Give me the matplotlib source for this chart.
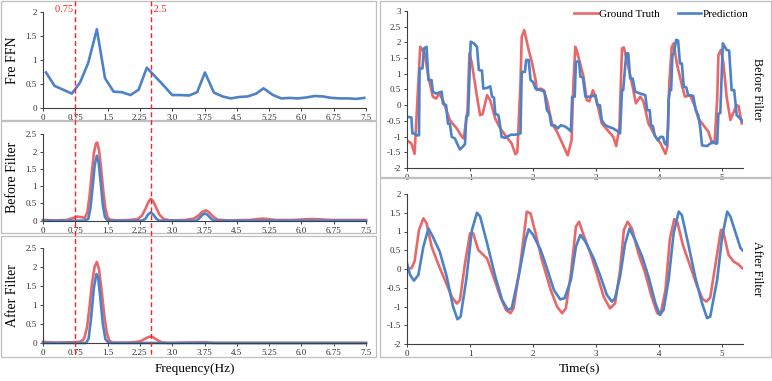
import matplotlib
matplotlib.use("Agg")
import matplotlib.pyplot as plt
from matplotlib.lines import Line2D
from matplotlib.patches import Rectangle
from matplotlib import transforms

plt.rcParams['font.family'] = ['Liberation Serif', 'DejaVu Serif']

# ---------------- data ----------------
fre_x = [0.07, 0.27, 0.47, 0.67, 0.86, 1.05, 1.25, 1.44, 1.64, 1.83, 2.03, 2.22, 2.41,
         2.61, 2.80, 3.00, 3.19, 3.39, 3.58, 3.76, 3.97, 4.17, 4.36, 4.56, 4.75, 4.95,
         5.12, 5.34, 5.53, 5.73, 5.92, 6.12, 6.31, 6.51, 6.70, 6.89, 7.09, 7.28, 7.46]
fre_y = [0.74, 0.46, 0.38, 0.30, 0.53, 0.94, 1.64, 0.62, 0.34, 0.33, 0.27, 0.38, 0.84,
         0.65, 0.47, 0.27, 0.27, 0.26, 0.33, 0.74, 0.32, 0.24, 0.20, 0.23, 0.24, 0.30,
         0.41, 0.27, 0.20, 0.21, 0.20, 0.22, 0.25, 0.24, 0.21, 0.20, 0.20, 0.19, 0.21]

bf_gt_x = [0.0, 0.3, 0.55, 0.7, 0.8, 0.9, 0.97, 1.03, 1.08, 1.13, 1.18, 1.23, 1.26, 1.30,
           1.35, 1.40, 1.45, 1.50, 1.56, 1.7, 2.0, 2.2, 2.3, 2.38, 2.45, 2.5, 2.55, 2.62,
           2.7, 2.8, 2.95, 3.3, 3.5, 3.6, 3.7, 3.78, 3.85, 3.95, 4.05, 4.3, 4.8, 5.0, 5.1,
           5.2, 5.4, 5.8, 6.1, 6.25, 6.4, 6.7, 7.0, 7.5]
bf_gt_y = [0.02, 0.01, 0.02, 0.08, 0.12, 0.10, 0.08, 0.25, 0.70, 1.35, 1.95, 2.24, 2.26, 2.05,
           1.50, 0.85, 0.35, 0.10, 0.03, 0.01, 0.02, 0.05, 0.15, 0.35, 0.55, 0.63, 0.58, 0.40,
           0.18, 0.05, 0.01, 0.02, 0.06, 0.14, 0.26, 0.30, 0.25, 0.12, 0.03, 0.01, 0.02, 0.05, 0.06,
           0.05, 0.02, 0.02, 0.04, 0.05, 0.04, 0.02, 0.02, 0.02]
bf_pr_x = [0.0, 0.95, 1.05, 1.10, 1.15, 1.20, 1.25, 1.29, 1.34, 1.39, 1.44, 1.50, 1.6, 2.3,
           2.38, 2.44, 2.5, 2.56, 2.63, 2.7, 3.55, 3.62, 3.7, 3.76, 3.82, 3.9, 3.98, 7.5]
bf_pr_y = [0.0, 0.0, 0.05, 0.35, 0.95, 1.60, 1.88, 1.70, 1.10, 0.45, 0.10, 0.01, 0.0, 0.0,
           0.06, 0.18, 0.24, 0.18, 0.06, 0.0, 0.0, 0.06, 0.17, 0.21, 0.17, 0.06, 0.0, 0.0]

af_gt_x = [0.0, 0.3, 0.7, 0.85, 0.95, 1.02, 1.08, 1.14, 1.20, 1.25, 1.30, 1.36, 1.42, 1.48,
           1.54, 1.62, 2.0, 2.25, 2.35, 2.45, 2.5, 2.56, 2.65, 2.75, 2.9, 3.75, 4.0, 7.5]
af_gt_y = [0.03, 0.01, 0.02, 0.03, 0.10, 0.40, 0.95, 1.60, 2.02, 2.14, 1.95, 1.40, 0.75, 0.28,
           0.06, 0.01, 0.01, 0.04, 0.10, 0.16, 0.17, 0.15, 0.08, 0.02, 0.0, 0.02, 0.0, 0.0]
af_pr_x = [0.0, 1.0, 1.06, 1.12, 1.18, 1.24, 1.28, 1.33, 1.39, 1.45, 1.52, 1.6, 7.5]
af_pr_y = [0.0, 0.0, 0.12, 0.70, 1.45, 1.82, 1.75, 1.20, 0.50, 0.10, 0.01, 0.0, 0.0]

tb_gt_x = [0.0, 0.07, 0.12, 0.21, 0.28, 0.34, 0.41, 0.46, 0.51, 0.57, 0.68, 0.79, 0.87, 0.90,
           0.96, 0.99, 1.03, 1.11, 1.16, 1.20, 1.27, 1.32, 1.40, 1.48, 1.56, 1.66, 1.72, 1.75,
           1.80, 1.82, 1.86, 1.93, 1.98, 2.04, 2.06, 2.12, 2.17, 2.22, 2.30, 2.38, 2.49, 2.55,
           2.61, 2.64, 2.67, 2.69, 2.80, 2.85, 2.89, 2.95, 3.01, 3.09, 3.20, 3.27, 3.32, 3.37,
           3.41, 3.44, 3.51, 3.59, 3.63, 3.70, 3.75, 3.83, 3.94, 4.02, 4.10, 4.13, 4.16, 4.20,
           4.23, 4.28, 4.36, 4.41, 4.49, 4.57, 4.62, 4.70, 4.78, 4.84, 4.88, 4.92, 4.94, 4.98,
           5.02, 5.07, 5.13, 5.16, 5.23, 5.26, 5.31]
tb_gt_y = [-1.12, -1.22, -1.55, 1.86, 1.65, 0.90, 0.27, 0.21, 0.37, 0.16, -0.48, -0.74, -1.00, -1.06,
           -0.16, 1.65, 1.33, 0.27, -0.32, -0.28, 0.32, 0.16, -0.43, -0.74, -0.96, -1.22, -1.56, -1.49,
           0.69, 2.18, 2.39, 1.76, 1.38, 0.80, 0.48, 0.53, 0.48, 0.16, -0.59, -0.85, -1.33, -1.60,
           -1.12, 0.69, 1.86, 1.76, 0.91, 0.17, 0.12, 0.48, 0.12, -0.58, -0.84, -1.00, -1.30, -0.68,
           1.81, 1.84, 1.23, 0.48, 0.06, 0.27, 0.12, -0.58, -1.00, -1.21, -1.55, -1.32, 0.70, 1.86,
           1.97, 1.33, 0.64, 0.27, 0.32, -0.05, -0.42, -0.63, -0.84, -1.21, -1.16, 0.17, 1.60, 1.76,
           1.33, 0.27, -0.47, -0.32, 0.00, -0.03, -0.58]

tb_pr_x = [0.0, 0.07, 0.085, 0.12, 0.15, 0.19, 0.20, 0.245, 0.27, 0.31, 0.34, 0.39, 0.41, 0.46,
           0.55, 0.57, 0.62, 0.65, 0.68, 0.71, 0.76, 0.80, 0.84, 0.88, 0.92, 0.94, 0.97, 1.01,
           1.06, 1.11, 1.14, 1.19, 1.21, 1.27, 1.32, 1.35, 1.38, 1.40, 1.45, 1.48, 1.50, 1.56,
           1.60, 1.65, 1.72, 1.80, 1.82, 1.87, 1.89, 1.93, 1.96, 2.00, 2.04, 2.12, 2.18, 2.22,
           2.26, 2.29, 2.34, 2.39, 2.44, 2.50, 2.55, 2.60, 2.62, 2.66, 2.68, 2.73, 2.75, 2.79,
           2.83, 2.91, 2.99, 3.02, 3.06, 3.09, 3.14, 3.20, 3.27, 3.35, 3.38, 3.41, 3.43, 3.46,
           3.48, 3.51, 3.54, 3.58, 3.62, 3.70, 3.78, 3.81, 3.85, 3.87, 3.90, 3.93, 3.98, 4.02,
           4.06, 4.09, 4.12, 4.14, 4.15, 4.17, 4.19, 4.21, 4.23, 4.27, 4.30, 4.33, 4.36, 4.39,
           4.43, 4.46, 4.54, 4.58, 4.62, 4.65, 4.68, 4.76, 4.81, 4.85, 4.89, 4.92, 4.94, 4.97,
           5.01, 5.07, 5.11, 5.15, 5.19, 5.23, 5.26, 5.32]
tb_pr_y = [-0.37, -0.39, -0.90, -0.90, -0.96, -0.96, 1.17, 1.17, 1.81, 1.86, 0.80, 0.80, 0.43, 0.37,
           0.43, 0.05, 0.00, -0.59, -0.59, -1.01, -1.06, -1.24, -1.41, -1.33, -1.24, -0.37, -0.32, 2.02,
           1.97, 1.86, 1.12, 1.10, 0.53, 0.55, 0.60, 0.27, 0.24, -0.27, -0.32, -0.69, -1.01, -1.04,
           -0.99, -0.94, -0.94, -0.90, 1.06, 1.06, 1.44, 1.44, 0.80, 0.74, 0.53, 0.48, 0.43, -0.16,
           -0.27, -0.64, -0.64, -0.74, -0.64, -0.67, -0.74, -0.83, 0.27, 0.27, 1.39, 1.39, 0.91, 0.88,
           0.27, 0.27, 0.32, 0.00, 0.00, -0.48, -0.63, -0.69, -0.74, -0.84, -0.90, 0.48, 0.48, 1.23,
           1.65, 1.65, 0.85, 0.85, 0.43, 0.37, 0.32, -0.16, -0.16, -0.63, -0.67, -0.96, -1.12, -1.01,
           -1.01, -1.22, -1.27, -0.74, 0.17, 0.48, 0.48, 1.60, 1.63, 2.08, 2.06, 1.33, 1.33, 0.59,
           0.57, 0.32, 0.30, -0.16, -0.32, -0.69, -1.28, -1.30, -1.22, -1.16, -1.22, -1.22, -0.27, -0.25,
           1.97, 1.76, 1.74, 0.48, 0.48, -0.32, -0.37, -0.50]

ta_gt_x = [0.0, 0.07, 0.12, 0.19, 0.26, 0.31, 0.39, 0.49, 0.60, 0.71, 0.79, 0.84, 0.92, 1.00,
           1.05, 1.13, 1.27, 1.37, 1.48, 1.57, 1.64, 1.69, 1.80, 1.90, 1.96, 2.04, 2.14, 2.28,
           2.38, 2.46, 2.52, 2.60, 2.68, 2.73, 2.80, 2.91, 3.01, 3.12, 3.22, 3.30, 3.38, 3.44,
           3.50, 3.57, 3.67, 3.78, 3.88, 3.97, 4.02, 4.10, 4.17, 4.24, 4.29, 4.38, 4.49, 4.60,
           4.69, 4.75, 4.81, 4.89, 4.98, 5.01, 5.10, 5.18, 5.26, 5.32]
ta_gt_y = [0.02, 0.02, 0.20, 1.04, 1.35, 1.22, 0.60, 0.15, -0.29, -0.74, -0.92, -0.83, 0.15, 0.95,
           0.95, 0.51, 0.28, -0.20, -0.74, -1.09, -1.18, -1.05, 0.15, 1.53, 1.48, 0.95, 0.24, -0.56,
           -1.00, -1.18, -1.05, -0.12, 1.13, 1.26, 0.91, 0.42, -0.12, -0.74, -1.05, -0.92, -0.03, 1.04,
           1.26, 1.07, 0.42, -0.12, -0.74, -1.18, -1.22, -0.56, 0.80, 1.33, 1.24, 0.62, 0.09, -0.45,
           -0.80, -0.87, -0.76, 0.09, 1.04, 1.04, 0.38, 0.20, 0.12, 0.02]

ta_pr_x = [0.0, 0.05, 0.11, 0.18, 0.26, 0.34, 0.41, 0.52, 0.63, 0.73, 0.80, 0.85, 0.94, 1.03,
           1.11, 1.16, 1.27, 1.40, 1.51, 1.60, 1.66, 1.77, 1.88, 1.93, 2.00, 2.12, 2.22, 2.33,
           2.43, 2.50, 2.60, 2.68, 2.75, 2.83, 2.96, 3.07, 3.17, 3.25, 3.30, 3.38, 3.46, 3.53,
           3.62, 3.73, 3.83, 3.94, 4.01, 4.07, 4.15, 4.23, 4.31, 4.36, 4.47, 4.57, 4.68, 4.76,
           4.81, 4.92, 5.00, 5.08, 5.13, 5.24, 5.29, 5.34]
ta_pr_y = [0.15, -0.16, -0.31, -0.16, 0.60, 1.08, 0.86, 0.46, -0.20, -1.00, -1.34, -1.27, -0.29, 1.04,
           1.50, 1.40, 0.69, -0.20, -0.83, -1.09, -1.05, -0.20, 0.78, 1.06, 0.91, 0.51, 0.02, -0.56,
           -0.81, -0.78, -0.29, 0.60, 0.91, 0.73, 0.29, -0.20, -0.69, -0.87, -0.78, -0.20, 0.68, 1.08,
           0.77, 0.33, -0.20, -0.91, -1.22, -1.09, -0.29, 0.96, 1.53, 1.44, 0.60, -0.20, -0.91, -1.31,
           -1.27, -0.29, 0.87, 1.53, 1.40, 0.82, 0.56, 0.47]

freq_ticks = [0, 0.75, 1.5, 2.25, 3.0, 3.75, 4.5, 5.25, 6.0, 6.75, 7.5]
freq_ticklabels = ['0', '0.75', '1.5', '2.25', '3.0', '3.75', '4.5', '5.25', '6.0', '6.75', '7.5']
time_ticks = [0, 1, 2, 3, 4, 5]
cutoffs = [0.75, 2.5]
cutoff_labels = ['0.75', '2.5']

# ---------------- styling ----------------
W, H = 772, 381
RED = '#E8686A'
BLUE = '#4D82C8'
AX = '#404040'
BOX = '#BFBFBF'
LW = 1.9

fig = plt.figure(figsize=(W / 100, H / 100), dpi=100)


def px_axes(left, top, right, bottom):
    return fig.add_axes([left / W, 1 - bottom / H, (right - left) / W, (bottom - top) / H])


def box(left, top, right, bottom):
    fig.add_artist(Rectangle((left / W, 1 - bottom / H), (right - left) / W, (bottom - top) / H,
                             transform=fig.transFigure, fill=False, edgecolor=BOX, lw=0.9))


def style(ax):
    for s in ['top', 'right']:
        ax.spines[s].set_visible(False)
    for s in ['left', 'bottom']:
        ax.spines[s].set_color(AX)
        ax.spines[s].set_linewidth(0.8)
    ax.tick_params(axis='both', direction='out', length=2.5, width=0.7, color=AX,
                   labelsize=6.5, pad=2, labelcolor='#303030')
    ax.set_facecolor('none')


# boxes
box(1, 1, 376, 120)
box(1, 121, 376, 233)
box(1, 236, 376, 357)
box(380, 1, 771, 177)
box(380, 178, 771, 357)

# left panels
ax1 = px_axes(43, 12, 366, 108)
ax1.plot(fre_x, fre_y, color=BLUE, lw=LW, clip_on=False)
ax1.set_ylim(0, 2)
ax1.set_yticks([0, 0.5, 1, 1.5, 2])
ax1.set_yticklabels(['0', '0.5', '1', '1.5', '2'])

ax2 = px_axes(43, 134.3, 366, 220.7)
ax2.plot(bf_gt_x, bf_gt_y, color=RED, lw=LW, clip_on=False)
ax2.plot(bf_pr_x, bf_pr_y, color=BLUE, lw=LW, clip_on=False)
ax2.set_ylim(0, 2.5)

ax3 = px_axes(43, 248.3, 366, 343)
ax3.plot(af_gt_x, af_gt_y, color=RED, lw=LW, clip_on=False)
ax3.plot(af_pr_x, af_pr_y, color=BLUE, lw=LW, clip_on=False)
ax3.set_ylim(0, 2.5)

for ax in (ax2, ax3):
    ax.set_yticks([0, 0.5, 1, 1.5, 2, 2.5])
    ax.set_yticklabels(['0', '0.5', '1', '1.5', '2', '2.5'])

for ax, lab in zip((ax1, ax2, ax3), ('Fre FFN', 'Before Filter', 'After Filter')):
    ax.set_xlim(0, 7.5)
    ax.set_xticks(freq_ticks)
    ax.set_xticklabels(freq_ticklabels)
    style(ax)
    ax.set_ylabel(lab, fontsize=10, va='center', ha='center')
    ax.yaxis.set_label_coords(-30 / 323, 0.5)

# right panels
ax4 = px_axes(407, 11, 743, 168)
ax4.plot(tb_gt_x, tb_gt_y, color=RED, lw=LW, label='Ground Truth')
ax4.plot(tb_pr_x, tb_pr_y, color=BLUE, lw=LW, label='Prediction')
ax4.set_ylim(-2, 3)
ax4.set_yticks([-2, -1.5, -1, -0.5, 0, 0.5, 1, 1.5, 2, 2.5, 3])
ax4.set_yticklabels(['-2', '-1.5', '-1', '-0.5', '0', '0.5', '1', '1.5', '2', '2.5', '3'])

ax5 = px_axes(407, 194, 743, 344)
ax5.plot(ta_gt_x, ta_gt_y, color=RED, lw=LW)
ax5.plot(ta_pr_x, ta_pr_y, color=BLUE, lw=LW)
ax5.set_ylim(-2, 2)
ax5.set_yticks([-2, -1.5, -1, -0.5, 0, 0.5, 1, 1.5, 2])
ax5.set_yticklabels(['-2', '-1.5', '-1', '-0.5', '0', '0.5', '1', '1.5', '2'])

for ax, lab in zip((ax4, ax5), ('Before Filter', 'After Filter')):
    ax.set_xlim(0, 5.33)
    ax.set_xticks(time_ticks)
    ax.set_xticklabels([str(t) for t in time_ticks])
    style(ax)
    ax.yaxis.set_label_position('right')
    ax.set_ylabel(lab, fontsize=8.7, rotation=270, va='center', ha='center')
    ax.yaxis.set_label_coords((757 - 407) / 336, 0.5)

leg = ax4.legend(loc='upper right', bbox_to_anchor=((753 - 407) / 336, 1.04), ncol=2,
                 frameon=False, fontsize=8, handlelength=2.1, handletextpad=0.15,
                 columnspacing=1.6, borderaxespad=0)

# cutoff lines across the left column
trans = transforms.blended_transform_factory(ax1.transData, fig.transFigure)
for c in cutoffs:
    fig.add_artist(Line2D([c, c], [1 - 1 / H, 1 - 356 / H], transform=trans, color='#FF2020',
                          lw=1.0, ls=(0, (3.5, 2.2))))
fig.text(cutoffs[0], 1 - 9 / H, cutoff_labels[0] + ' ', transform=trans, color='#FF2020',
         fontsize=7.5, ha='right', va='center')
fig.text(cutoffs[1], 1 - 9 / H, ' ' + cutoff_labels[1], transform=trans, color='#FF2020',
         fontsize=7.5, ha='left', va='center')

fig.text(195 / W, 1 - 369 / H, 'Frequency(Hz)', fontsize=9.5, ha='center', va='center')
fig.text(580 / W, 1 - 369 / H, 'Time(s)', fontsize=9.5, ha='center', va='center')

fig.savefig('out.png', dpi=100)
